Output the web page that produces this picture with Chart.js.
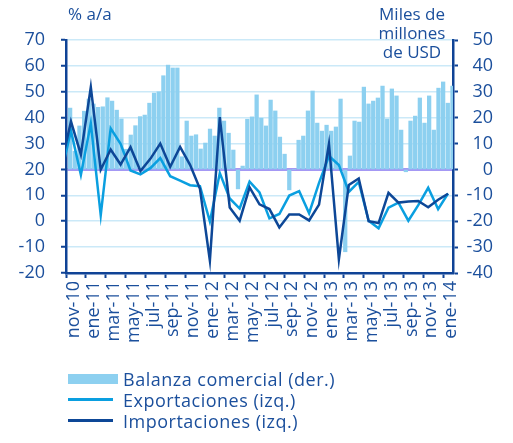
<!DOCTYPE html>
<html>
<head>
<meta charset="utf-8">
<script src="https://cdn.jsdelivr.net/npm/chart.js@4.4.0/dist/chart.umd.min.js"></script>
<style>
  html, body { margin: 0; padding: 0; background: #fff; }
  #wrap { position: relative; width: 513px; height: 443px; font-family: "Open Sans", sans-serif; color: #1b4f9c; }
  #chart { position: absolute; left: 0; top: 0; }
  .t { position: absolute; font-size: 17px; line-height: 19px; white-space: nowrap; z-index: 2; }
  #legend { position: absolute; left: 68px; top: 368px; font-size: 18px; letter-spacing: 0.5px; z-index: 2; }
  .item { display: flex; align-items: center; height: 21px; white-space: nowrap; }
  .sw { width: 50px; margin-right: 5px; }
</style>
</head>
<body>
<div id="wrap">
  <canvas id="chart" width="513" height="443"></canvas>
  <div class="t" style="left:68px;top:4px;">% a/a</div>
  <div class="t" style="left:362px;top:4px;width:100px;text-align:center;">Miles de<br>millones<br>de USD</div>
  <div id="legend"></div>
</div>
<script>
// meses de las líneas (oct-10 queda fuera del eje, solo entra el tramo inicial)
const meses = ['oct-10','nov-10','dic-10',
  'ene-11','feb-11','mar-11','abr-11','may-11','jun-11','jul-11','ago-11','sep-11','oct-11','nov-11','dic-11',
  'ene-12','feb-12','mar-12','abr-12','may-12','jun-12','jul-12','ago-12','sep-12','oct-12','nov-12','dic-12',
  'ene-13','feb-13','mar-13','abr-13','may-13','jun-13','jul-13','ago-13','sep-13','oct-13','nov-13','dic-13',
  'ene-14'];

// etiquetas del eje x (cada dos meses)
const etiquetasX = ['nov-10','ene-11','mar-11','may-11','jul-11','sep-11','nov-11','ene-12','mar-12','may-12',
  'jul-12','sep-12','nov-12','ene-13','mar-13','may-13','jul-13','sep-13','nov-13','ene-14'];

// % a/a, eje izquierdo
const exportaciones = [18.2,
  35.0, 17.9, 37.8, 2.3, 35.9, 29.9, 19.6, 18.1, 20.5, 24.4,
  17.4, 15.7, 13.9, 13.5, -0.1, 18.6, 8.8, 4.9, 15.3, 11.1,
  1.1, 2.8, 9.9, 11.6, 3.1, 14.8, 25.2, 21.7, 11.3, 15.2,
  0.2, -2.7, 5.2, 7.2, 0.2, 6.2, 12.9, 4.7, 10.7];

const importaciones = [21.3,
  38.5, 25.8, 51.8, 19.9, 27.7, 21.9, 28.6, 19.4, 24.1, 30.0,
  21.0, 28.7, 21.8, 12.5, -15.2, 40.2, 5.3, 0.2, 13.1, 6.5,
  4.7, -2.4, 2.6, 2.6, 0.3, 6.4, 29.9, -14.7, 14.0, 16.5,
  0.0, -0.7, 11.0, 7.2, 7.6, 7.8, 5.4, 8.3, 10.6];

// miles de millones de USD, eje derecho
const balanza = [
  23.7, 7.0, 16.8, 22.5, 27.2, 25.3, 24.0, 24.2, 27.7, 26.4,
  22.9, 19.5, 7.8, 13.3, 16.9, 20.4, 21.0, 25.6, 29.5, 30.0,
  36.2, 40.3, 39.2, 39.2, 4.9, 18.7, 12.9, 13.4, 7.9, 10.2,
  15.6, 12.9, 23.7, 18.7, 14.0, 7.5, -7.5, 1.3, 19.4, 20.3,
  28.8, 19.8, 16.8, 26.8, 22.6, 12.5, 5.9, -7.9, 0, 11.3,
  12.9, 22.6, 30.3, 17.9, 14.8, 17.1, 14.8, 16.4, 27.2, -31.8,
  5.2, 18.7, 18.3, 31.8, 25.3, 26.4, 27.6, 32.2, 19.5, 31.1,
  28.4, 15.2, -0.9, 18.7, 20.6, 27.6, 17.9, 28.4, 15.2, 31.4,
  33.8, 25.6, 32.2];
const periodosBalanza = balanza.map((v, i) => String(i + 1));

const azulTexto = '#1b4f9c';
const azulEje = '#0f4396';
const colBalanza = '#8dd0f0';
const colExport = '#0a9fe0';
const colImport = '#0d4797';

Chart.defaults.font.family = '"Open Sans", sans-serif';
Chart.defaults.font.size = 18;
Chart.defaults.color = azulTexto;

const toXY = arr => arr.map((v, i) => ({ x: i - 1, y: v }));

const chart = new Chart(document.getElementById('chart'), {
  data: {
    labels: periodosBalanza,
    datasets: [
      { type: 'line', label: 'Importaciones (izq.)', data: toXY(importaciones), xAxisID: 'x', yAxisID: 'y',
        borderColor: colImport, borderWidth: 2.5, pointRadius: 0, tension: 0, clip: 0, order: 0 },
      { type: 'line', label: 'Exportaciones (izq.)', data: toXY(exportaciones), xAxisID: 'x', yAxisID: 'y',
        borderColor: colExport, borderWidth: 2.5, pointRadius: 0, tension: 0, clip: 0, order: 1 },
      { type: 'bar', label: 'Balanza comercial (der.)', data: balanza, xAxisID: 'xb', yAxisID: 'y2',
        backgroundColor: colBalanza, barThickness: 3.6, order: 2 }
    ]
  },
  options: {
    responsive: false,
    animation: false,
    events: [],
    layout: { padding: { top: 40, left: 0, right: 20, bottom: 0 } },
    plugins: { legend: { display: false }, tooltip: { enabled: false } },
    scales: {
      x: {
        type: 'linear', position: 'bottom', min: -0.5, max: 38.5,
        afterBuildTicks: s => { s.ticks = etiquetasX.map((l, k) => ({ value: -0.5 + 2 * k })); },
        afterFit: s => { s.height = 170; },
        grid: { drawOnChartArea: false, tickLength: 5, tickColor: azulEje, tickWidth: 2 },
        border: { color: azulEje, width: 2.5 },
        ticks: { autoSkip: false, minRotation: 90, maxRotation: 90, labelOffset: 8, padding: 3,
          callback: (v, i) => etiquetasX[i] }
      },
      xb: { type: 'category', display: false, offset: true },
      y: {
        position: 'left', min: -20, max: 70,
        afterFit: s => { s.width = 66; },
        ticks: { stepSize: 10, padding: 16 },
        grid: {
          color: c => (c.tick && c.tick.value === 20) ? '#a498f4' : '#cbe9f8',
          lineWidth: c => (c.tick && c.tick.value === 20) ? 3 : 1.5,
          tickColor: azulEje, tickLength: 5, tickWidth: 2
        },
        border: { color: azulEje, width: 2.5 }
      },
      y2: {
        position: 'right', min: -40, max: 50,
        afterFit: s => { s.width = 40; },
        ticks: { stepSize: 10, crossAlign: 'far' },
        grid: { drawOnChartArea: false, tickColor: azulEje, tickLength: 5, tickWidth: 2 },
        border: { color: azulEje, width: 2.5 }
      }
    }
  }
});

// leyenda
const legend = document.getElementById('legend');
const orden = [2, 1, 0];
orden.forEach(k => {
  const ds = chart.data.datasets[k];
  const row = document.createElement('div');
  row.className = 'item';
  const sw = document.createElement('span');
  sw.className = 'sw';
  if (ds.type === 'bar') {
    sw.style.height = '10px';
    sw.style.background = ds.backgroundColor;
  } else {
    sw.style.height = '2.5px';
    sw.style.width = '45px';
    sw.style.marginRight = '10px';
    sw.style.background = ds.borderColor;
  }
  row.appendChild(sw);
  const tx = document.createElement('span');
  tx.textContent = ds.label;
  row.appendChild(tx);
  legend.appendChild(row);
});
</script>
</body>
</html>
